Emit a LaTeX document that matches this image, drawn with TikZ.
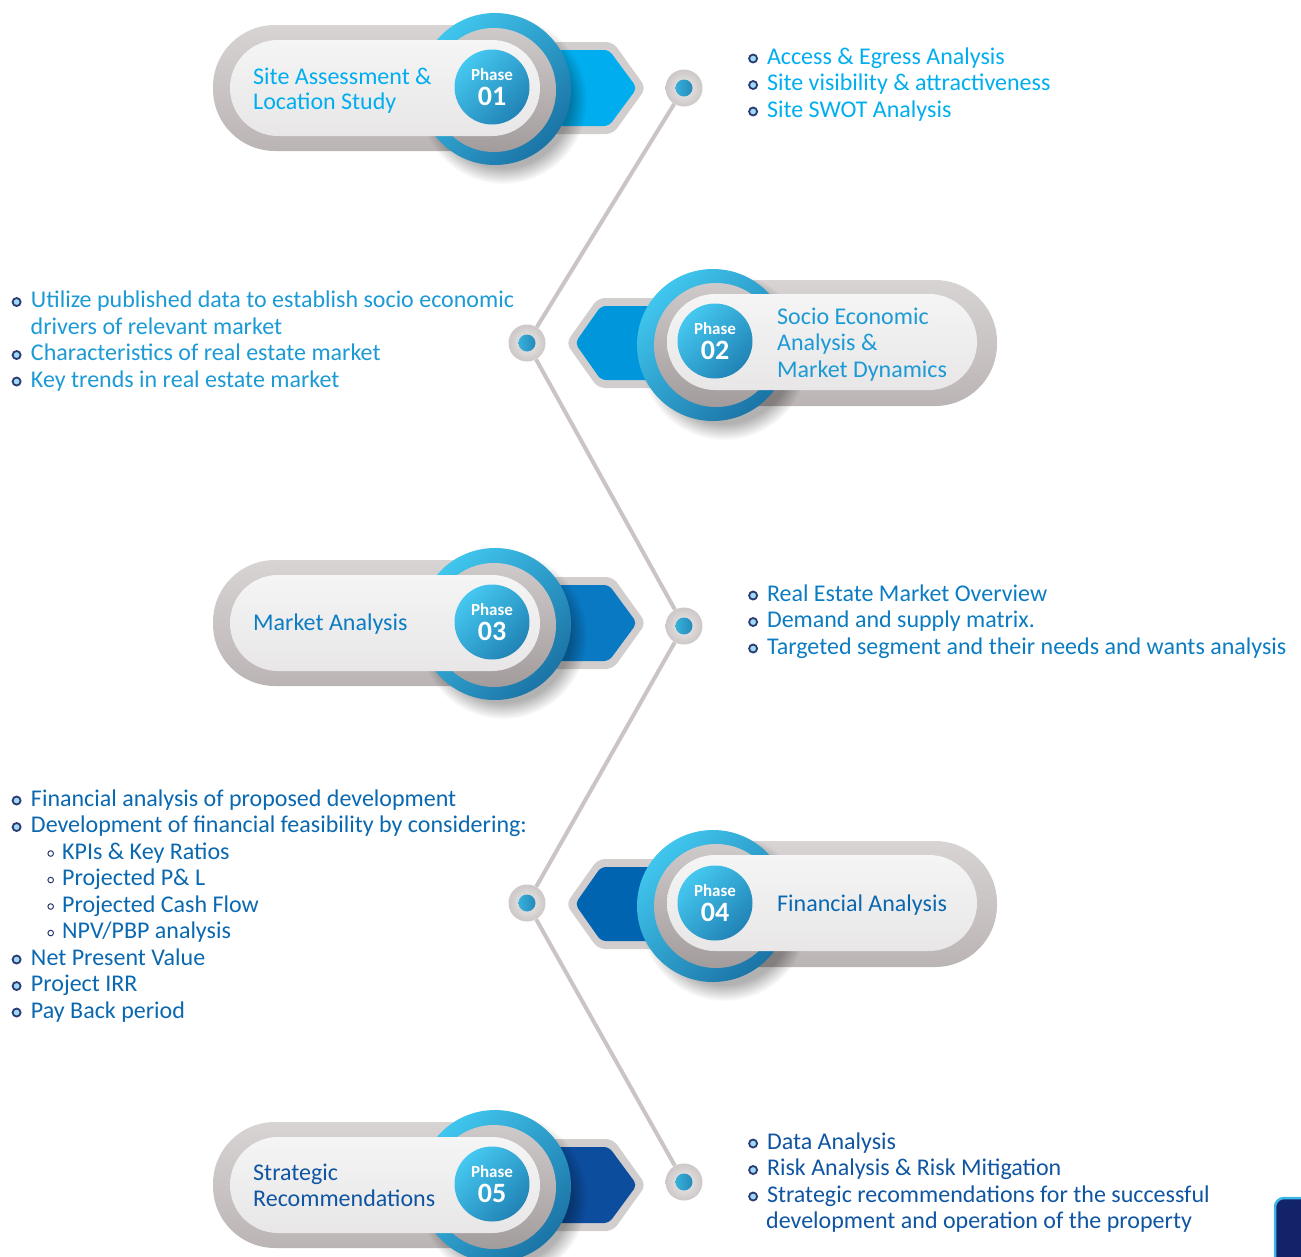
\documentclass[tikz,border=0pt]{standalone}
\usepackage{fontspec}
\setmainfont{Carlito}
\usepackage{tikz}
\usetikzlibrary{fadings}

\definecolor{tc1}{HTML}{00AEEF}
\definecolor{tc2}{HTML}{1B9AD6}
\definecolor{tc3}{HTML}{0C7CC2}
\definecolor{tc4}{HTML}{0A68B0}
\definecolor{tc5}{HTML}{0F55A2}
\definecolor{tab1}{HTML}{00AEEF}
\definecolor{tab2}{HTML}{0096DB}
\definecolor{tab3}{HTML}{0A79C4}
\definecolor{tab4}{HTML}{0064B1}
\definecolor{tab5}{HTML}{0C4D9E}
\definecolor{tabgrey}{HTML}{D3CECE}
\definecolor{pillA}{HTML}{D8D4D4}
\definecolor{pillB}{HTML}{BBB4B4}
\definecolor{innerA}{HTML}{F5F5F6}
\definecolor{innerB}{HTML}{E8E6E7}
\definecolor{discA}{HTML}{CFCACA}
\definecolor{discB}{HTML}{A39C9C}
\definecolor{ringA}{HTML}{40C6EE}
\definecolor{ringB}{HTML}{1B74A6}
\definecolor{phA}{HTML}{45C8F0}
\definecolor{phB}{HTML}{2183B6}
\definecolor{linkgrey}{HTML}{CBC4C4}
\definecolor{dotin}{HTML}{EEECEC}
\definecolor{dotout}{HTML}{CDC7C7}
\definecolor{bltline}{HTML}{2B3A73}
\definecolor{bltfill}{HTML}{9FDAF5}
\definecolor{navybox}{HTML}{13236A}
\definecolor{navyedge}{HTML}{3DB7EA}

\newcommand{\bl}{\tikz[baseline=-0.5ex]\draw[draw=bltline,fill=bltfill,line width=1.8pt] (0,0) circle (4pt);}
\newcommand{\sbl}{\tikz[baseline=-0.5ex]\draw[draw=bltline,line width=1pt] (0,0) circle (2.8pt);}

\begin{document}
\begin{tikzpicture}[x=1pt, y=-1pt,
  every node/.style={inner sep=0pt},
  link/.style={draw=linkgrey, line width=4pt},
  dot/.style={circle, minimum size=37pt, shade, inner color=dotin, outer color=dotout,
    path picture={\shade[left color=ringA, right color=ringB] (path picture bounding box.center) circle (8.5pt);}},
  phase/.style={circle, minimum size=75pt, top color=phA, bottom color=phB, shading angle=45,
    text=white, align=center, font=\bfseries\fontsize{17}{25}\selectfont},
  ring/.style={top color=ringA, bottom color=ringB, shading angle=45},
  disc/.style={top color=discA, bottom color=discB},
  outerpill/.style={top color=pillA, bottom color=pillB, rounded corners=62pt},
  innerpill/.style={top color=innerA, bottom color=innerB, rounded corners=48pt},
  shadow/.style={black, opacity=0.3, path fading=circle with fuzzy edge 20 percent},
  title/.style={anchor=north west, align=left, font=\fontsize{24}{26.5}\selectfont},
  bullets/.style={anchor=north west, align=left, font=\fontsize{24}{26.5}\selectfont},
]
  \useasboundingbox (0,0) rectangle (1301,1256);

  % phase 01
  \shade[outerpill] (213,25) rectangle (520,151);
  \fill[tabgrey, rounded corners=7pt] (550,42) -- (613,42) -- (646,88) -- (613,134) -- (550,134) -- cycle;
  \fill[tab1, rounded corners=5pt] (550,50) -- (609,50) -- (637,88) -- (609,126) -- (550,126) -- cycle;
  \fill[shadow] (503,100) circle (84pt);
  \shade[ring] (495,89) circle (76pt);
  \shade[disc] (494,90) circle (62pt);
  \shade[innerpill] (230,40) rectangle (540,136);
  \node[phase] (ph1) at (492,87) {Phase\\{\fontsize{28}{25}\selectfont 01}};
  \node[title, text=tc1] (t1) at (253,65.5) {\strut Site Assessment \&\\[-1.5pt]Location Study};

  % phase 02
  \shade[outerpill] (690,280) rectangle (997,406);
  \fill[tabgrey, rounded corners=7pt] (660,298) -- (598,298) -- (566,343) -- (598,388) -- (660,388) -- cycle;
  \fill[tab2, rounded corners=5pt] (660,306) -- (601,306) -- (575,343) -- (601,380) -- (660,380) -- cycle;
  \fill[shadow] (724,356) circle (84pt);
  \shade[ring] (713,345) circle (76pt);
  \shade[disc] (716,345) circle (62pt);
  \shade[innerpill] (667,294) rectangle (977,390);
  \node[phase] (ph2) at (715,341) {Phase\\{\fontsize{28}{25}\selectfont 02}};
  \node[title, text=tc2] (t2) at (777,305.5) {\strut Socio Economic\\Analysis \&\\Market Dynamics};

  % phase 03
  \shade[outerpill] (213,560) rectangle (520,686);
  \fill[tabgrey, rounded corners=7pt] (550,577) -- (613,577) -- (646,623) -- (613,669) -- (550,669) -- cycle;
  \fill[tab3, rounded corners=5pt] (550,585) -- (609,585) -- (637,623) -- (609,661) -- (550,661) -- cycle;
  \fill[shadow] (503,635) circle (84pt);
  \shade[ring] (495,624) circle (76pt);
  \shade[disc] (494,625) circle (62pt);
  \shade[innerpill] (230,575) rectangle (540,671);
  \node[phase] (ph3) at (492,622) {Phase\\{\fontsize{28}{25}\selectfont 03}};
  \node[title, text=tc3] (t3) at (253,611.5) {\strut Market Analysis};

  % phase 04
  \shade[outerpill] (690,841) rectangle (997,967);
  \fill[tabgrey, rounded corners=7pt] (660,859) -- (598,859) -- (566,904) -- (598,949) -- (660,949) -- cycle;
  \fill[tab4, rounded corners=5pt] (660,867) -- (601,867) -- (575,904) -- (601,941) -- (660,941) -- cycle;
  \fill[shadow] (724,917) circle (84pt);
  \shade[ring] (713,906) circle (76pt);
  \shade[disc] (716,906) circle (62pt);
  \shade[innerpill] (667,855) rectangle (977,951);
  \node[phase] (ph4) at (715,903) {Phase\\{\fontsize{28}{25}\selectfont 04}};
  \node[title, text=tc4] (t4) at (777,892.5) {\strut Financial Analysis};

  % phase 05
  \shade[outerpill] (213,1122) rectangle (520,1248);
  \fill[tabgrey, rounded corners=7pt] (550,1139) -- (613,1139) -- (646,1185) -- (613,1231) -- (550,1231) -- cycle;
  \fill[tab5, rounded corners=5pt] (550,1147) -- (609,1147) -- (637,1185) -- (609,1223) -- (550,1223) -- cycle;
  \fill[shadow] (503,1197) circle (84pt);
  \shade[ring] (495,1186) circle (76pt);
  \shade[disc] (494,1187) circle (62pt);
  \shade[innerpill] (230,1137) rectangle (540,1233);
  \node[phase] (ph5) at (492,1184) {Phase\\{\fontsize{28}{25}\selectfont 05}};
  \node[title, text=tc5] (t5) at (253,1161.5) {\strut Strategic\\Recommendations};

  % timeline
  \node[dot] (d1) at (684,88) {};
  \node[dot] (d2) at (527,343) {};
  \node[dot] (d3) at (684,626) {};
  \node[dot] (d4) at (527,903) {};
  \node[dot] (d5) at (684,1182) {};
  \path[link]
  (d1) edge (d2)
  (d2) edge (d3)
  (d3) edge (d4)
  (d4) edge (d5)
  ;

  % bullet lists
  \node[bullets, text=tc1] (l1) at (748,45.5) {\strut\bl\hspace{9pt}Access \& Egress Analysis\\
    \bl\hspace{9pt}Site visibility \& attractiveness\\
    \bl\hspace{9pt}Site SWOT Analysis};
  \node[bullets, text=tc2] (l2) at (11.5,289) {\strut\bl\hspace{9.5pt}Utilize published data to establish socio economic\\
    \hspace*{19pt}drivers of relevant market\\
    \bl\hspace{9.5pt}Characteristics of real estate market\\
    \bl\hspace{9.5pt}Key trends in real estate market};
  \node[bullets, text=tc3] (l3) at (748,582.5) {\strut\bl\hspace{9pt}Real Estate Market Overview\\
    \bl\hspace{9pt}Demand and supply matrix.\\
    \bl\hspace{9pt}Targeted segment and their needs and wants analysis};
  \node[bullets, text=tc4] (l4) at (11.5,787.5) {\strut\bl\hspace{9.5pt}Financial analysis of proposed development\\
    \bl\hspace{9.5pt}Development of financial feasibility by considering:\\
    \hspace*{35.7pt}\sbl\hspace{8.2pt}KPIs \& Key Ratios\\
    \hspace*{35.7pt}\sbl\hspace{8.2pt}Projected P\& L\\
    \hspace*{35.7pt}\sbl\hspace{8.2pt}Projected Cash Flow\\
    \hspace*{35.7pt}\sbl\hspace{8.2pt}NPV/PBP analysis\\
    \bl\hspace{9.5pt}Net Present Value\\
    \bl\hspace{9.5pt}Project IRR\\
    \bl\hspace{9.5pt}Pay Back period};
  \node[bullets, text=tc5] (l5) at (748,1130.5) {\strut\bl\hspace{9pt}Data Analysis\\
    \bl\hspace{9pt}Risk Analysis \& Risk Mitigation\\
    \bl\hspace{9pt}Strategic recommendations for the successful\\
    \hspace*{18pt}development and operation of the property};

  % corner of next element
  \filldraw[draw=navyedge, fill=navybox, line width=2.5pt, rounded corners=9pt] (1275,1198) rectangle (1340,1290);
\end{tikzpicture}
\end{document}
